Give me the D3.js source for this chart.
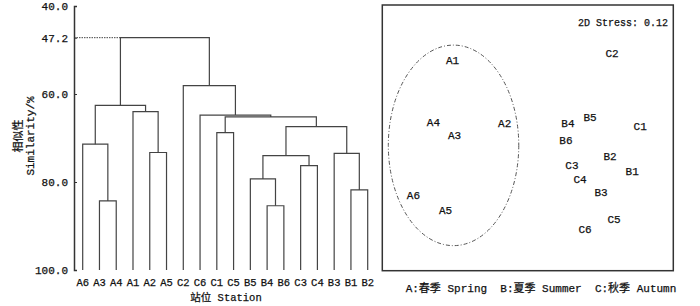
<!DOCTYPE html>
<html>
<head>
<meta charset="utf-8">
<script src="https://cdn.jsdelivr.net/npm/d3@7"></script>
<style>
  body { margin: 0; background: #fff; }
  text { font-family: "Liberation Mono", "Noto Sans CJK SC", monospace; fill: #111; stroke: #111; stroke-width: 0.25px; }
</style>
</head>
<body>
<svg id="chart" width="700" height="306"></svg>
<script>
// Data
const stations = ["A6", "A3", "A4", "A1", "A2", "A5", "C2", "C6", "C1", "C5",
                  "B5", "B4", "B6", "C3", "C4", "B3", "B1", "B2"];
// [left, right, similarity]; "mN" refers to the Nth merge
const merges = [
  ["A3", "A4", 84.3],
  ["A6", "m0", 71.4],
  ["A2", "A5", 73.3],
  ["A1", "m2", 64.0],
  ["m1", "m3", 62.6],
  ["B4", "B6", 85.4],
  ["B5", "m5", 79.3],
  ["C3", "C4", 76.3],
  ["m6", "m7", 74.0],
  ["B1", "B2", 81.8],
  ["B3", "m9", 73.5],
  ["m8", "m10", 67.4],
  ["C1", "C5", 68.8],
  ["m12", "m11", 65.2],
  ["C6", "m13", 64.8],
  ["C2", "m14", 58.1],
  ["m4", "m15", 47.2]
];
const yTicks = [40, 47.2, 60, 80, 100];
const cutLevel = 47.2;

const nmdsLabels = ["A1", "A2", "A3", "A4", "A5", "A6", "B1", "B2", "B3", "B4", "B5", "B6",
                    "C1", "C2", "C3", "C4", "C5", "C6"];
const nmdsX = [-0.75, -0.23, -0.73, -0.94, -0.82, -1.14, 1.04, 0.82, 0.73, 0.40, 0.62, 0.38,
               1.12, 0.84, 0.44, 0.52, 0.86, 0.57];
const nmdsY = [0.85, 0.22, 0.10, 0.23, -0.65, -0.50, -0.26, -0.11, -0.47, 0.22, 0.28, 0.05,
               0.19, 0.92, -0.20, -0.34, -0.74, -0.84];
const springEllipse = { cx: -0.74, cy: 0.0, rx: 0.65, ry: 1.0 };
const stress = "2D Stress: 0.12";
const legendText = "A:春季 Spring  B:夏季 Summer  C:秋季 Autumn";

const svg = d3.select("#chart");

// ---- Dendrogram ----
const xScale = d3.scalePoint().domain(stations).range([82.7, 367.7]);
const yScale = d3.scaleLinear().domain([40, 100]).range([6, 270]);
const axisX = 74;

const g = svg.append("g");

// node positions
const nodes = {};
stations.forEach((s) => (nodes[s] = { x: xScale(s), sim: 100 }));
merges.forEach((m, i) => {
  const a = nodes[m[0]], b = nodes[m[1]];
  nodes["m" + i] = { x: (a.x + b.x) / 2, sim: m[2] };
});

const linkPath = (m) => {
  const a = nodes[m[0]], b = nodes[m[1]];
  const y = yScale(m[2]);
  return `M${a.x},${yScale(a.sim)}V${y}H${b.x}V${yScale(b.sim)}`;
};

g.selectAll(".link")
  .data(merges)
  .enter()
  .append("path")
  .attr("class", "link")
  .attr("d", linkPath)
  .attr("fill", "none")
  .attr("stroke", "#444")
  .attr("stroke-width", 1.2);

// dotted guide at cut level
g.append("line")
  .attr("x1", axisX)
  .attr("x2", nodes["m4"].x)
  .attr("y1", yScale(cutLevel))
  .attr("y2", yScale(cutLevel))
  .attr("stroke", "#444")
  .attr("stroke-width", 1)
  .attr("stroke-dasharray", "1.5,1");

// y axis
const yAxis = d3.axisLeft(yScale)
  .tickValues(yTicks)
  .tickSize(-3)
  .tickPadding(6)
  .tickFormat(d3.format(".1f"));
const yAxisG = g.append("g").attr("transform", `translate(${axisX},0)`).call(yAxis);
yAxisG.select(".domain").attr("stroke", "#333").attr("stroke-width", 1.5);
yAxisG.selectAll(".tick line").attr("stroke", "#333");
yAxisG.selectAll(".tick text").attr("font-size", 11).attr("fill", "#111")
  .attr("font-family", "Liberation Mono");

// y title
const yTitle = g.append("text")
  .attr("transform", "translate(27,136) rotate(-90)")
  .attr("text-anchor", "middle")
  .attr("font-size", 11);
yTitle.append("tspan").attr("x", 0).attr("dy", "-0.45em").attr("font-size", 11).text("相似性");
yTitle.append("tspan").attr("x", 0).attr("dy", "1.05em").text("Similarity/%");

// leaf labels
g.selectAll(".leaf")
  .data(stations)
  .enter()
  .append("text")
  .attr("class", "leaf")
  .attr("x", (d) => xScale(d))
  .attr("y", 286)
  .attr("text-anchor", "middle")
  .attr("font-size", 10.5)
  .text((d) => d);

g.append("text")
  .attr("x", 226)
  .attr("y", 301)
  .attr("text-anchor", "middle")
  .attr("font-size", 10.5)
  .text("站位 Station");

// ---- NMDS ----
const px = d3.scaleLinear().domain([-1.45, 1.45]).range([382.3, 673.3]);
const py = d3.scaleLinear().domain([-1.25, 1.4]).range([270.7, 5]);

const n = svg.append("g");
n.append("rect")
  .attr("x", px(-1.45))
  .attr("y", py(1.4))
  .attr("width", px(1.45) - px(-1.45))
  .attr("height", py(-1.25) - py(1.4))
  .attr("fill", "none")
  .attr("stroke", "#333")
  .attr("stroke-width", 1.5);

n.append("ellipse")
  .attr("cx", px(springEllipse.cx))
  .attr("cy", py(springEllipse.cy))
  .attr("rx", px(springEllipse.rx) - px(0))
  .attr("ry", py(0) - py(springEllipse.ry))
  .attr("fill", "none")
  .attr("stroke", "#555")
  .attr("stroke-width", 1)
  .attr("stroke-dasharray", "4,2,1,2");

n.selectAll(".pt")
  .data(nmdsLabels)
  .enter()
  .append("text")
  .attr("class", "pt")
  .attr("x", (d, i) => px(nmdsX[i]))
  .attr("y", (d, i) => py(nmdsY[i]))
  .attr("dy", "0.35em")
  .attr("text-anchor", "middle")
  .attr("font-size", 11)
  .text((d) => d);

n.append("text")
  .attr("x", 668)
  .attr("y", 26)
  .attr("text-anchor", "end")
  .attr("font-size", 10)
  .text(stress);

n.append("text")
  .attr("x", 541)
  .attr("y", 292)
  .attr("text-anchor", "middle")
  .attr("font-size", 11)
  .style("white-space", "pre")
  .text(legendText);
</script>
</body>
</html>
